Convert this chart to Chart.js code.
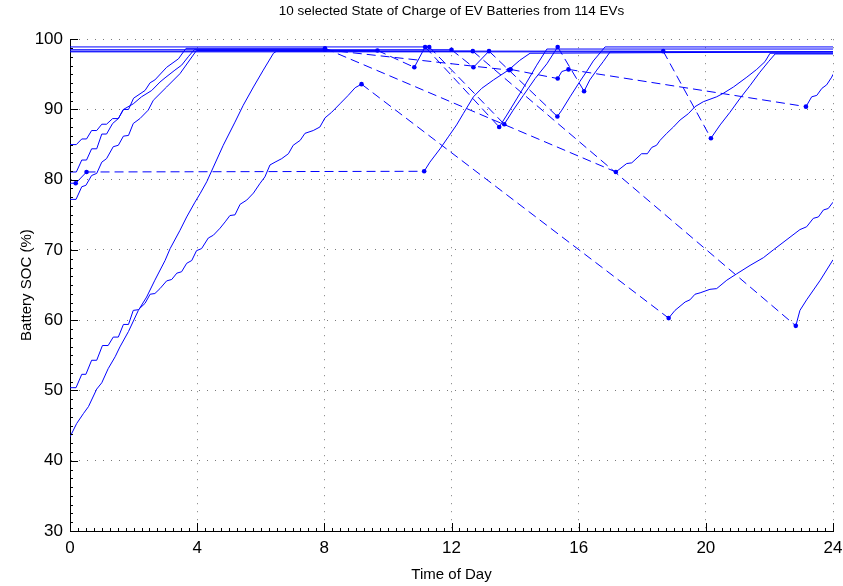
<!DOCTYPE html>
<html>
<head>
<meta charset="utf-8">
<script src="https://cdn.jsdelivr.net/npm/chart.js@4"></script>
<style>
  html, body { margin: 0; padding: 0; background: #fff; }
</style>
</head>
<body>
<canvas id="soc" width="843" height="586"></canvas>
<script>
// axis tick labels
const hourTicks = [0, 4, 8, 12, 16, 20, 24];
const socTicks = [30, 40, 50, 60, 70, 80, 90, 100];

// one EV per block: time of day (h), battery SOC (%), and the trips away from the charger [leave, arrive]
const ev1Time = [0, 0.2, 0.37, 0.52, 0.68, 0.84, 1.0, 1.15, 1.34, 1.52, 1.68, 1.84, 2.0, 2.36, 2.52, 2.67, 3.04, 3.41, 3.65, 8.02, 17.17, 17.51, 17.67, 17.98, 18.16, 18.3, 18.45, 18.56, 18.77, 18.98, 19.19, 19.45, 19.66, 19.92, 20.34, 20.55, 20.87, 21.29, 21.6, 21.86, 22.02, 24];
const ev1Soc = [85.0, 85.0, 85.8, 85.8, 87.0, 87.0, 87.9, 87.9, 88.7, 88.7, 90.0, 90.0, 91.6, 92.7, 93.8, 94.2, 96.0, 97.2, 98.7, 98.7, 81.1, 82.3, 82.4, 83.7, 83.7, 84.6, 84.9, 85.6, 86.6, 87.5, 88.5, 89.4, 90.4, 91.1, 91.8, 92.3, 93.2, 94.6, 95.7, 96.8, 98.0, 98.0];
const ev1Away = [[8.02, 17.17]];

const ev2Time = [0, 0.2, 0.37, 0.52, 0.68, 0.84, 1.0, 1.15, 1.34, 1.52, 1.68, 1.99, 2.25, 2.57, 2.83, 2.99, 3.3, 3.51, 3.72, 3.91, 8.02, 13.81, 13.86, 15.34, 15.47, 15.68, 23.15, 23.33, 23.49, 23.65, 23.8, 23.96, 24];
const ev2Soc = [81.1, 81.1, 82.8, 82.8, 84.4, 84.4, 86.5, 86.5, 88.0, 88.7, 90.0, 90.8, 91.8, 92.7, 93.9, 94.5, 95.6, 96.3, 97.5, 98.5, 98.5, 95.6, 95.7, 94.4, 95.4, 95.7, 90.4, 91.8, 92.0, 93.0, 93.5, 94.6, 95.0];
const ev2Away = [[8.02, 13.81], [13.86, 15.34], [15.68, 23.15]];

const ev3Time = [0, 0.19, 0.37, 0.5, 0.68, 0.84, 1.0, 1.15, 1.36, 1.52, 1.68, 1.84, 1.99, 2.2, 2.46, 2.62, 3.04, 3.46, 3.98, 9.67, 10.83, 11.17, 13.5, 13.74, 14.05, 14.37, 14.68, 15.0, 24];
const ev3Soc = [77.2, 77.2, 79.0, 79.2, 80.6, 80.9, 82.5, 83.0, 84.7, 84.9, 86.2, 86.3, 88.0, 88.7, 89.9, 91.3, 93.2, 95.1, 98.4, 98.4, 96.0, 98.9, 87.5, 89.2, 91.5, 93.9, 96.3, 98.6, 98.6];
const ev3Away = [[9.67, 10.83], [11.17, 13.5]];

const ev4Time = [0, 0.18, 0.52, 11.14, 11.32, 11.64, 11.9, 12.16, 12.37, 12.69, 12.95, 13.32, 13.79, 14.15, 14.47, 24];
const ev4Soc = [79.5, 79.5, 81.1, 81.2, 82.5, 84.4, 86.1, 87.8, 89.4, 91.8, 93.0, 94.2, 95.6, 97.0, 98.0, 98.2];
const ev4Away = [[0, 0.18], [0.52, 11.14]];

const ev5Time = [0, 0.19, 0.37, 0.5, 0.68, 0.84, 1.02, 1.2, 1.36, 1.52, 1.68, 1.84, 1.99, 2.15, 2.36, 2.52, 2.67, 2.83, 3.04, 3.2, 3.36, 3.51, 3.67, 3.83, 3.98, 4.14, 4.35, 4.51, 4.72, 4.88, 5.03, 5.19, 5.35, 5.56, 5.77, 5.98, 6.13, 6.29, 6.45, 6.66, 6.87, 7.02, 7.24, 7.39, 7.65, 7.86, 8.02, 8.23, 8.49, 8.75, 8.97, 9.17, 18.83, 19.03, 19.35, 19.5, 19.66, 19.82, 20.13, 20.34, 20.66, 20.97, 21.39, 21.81, 22.12, 22.96, 23.17, 23.38, 23.54, 23.7, 23.85, 24];
const ev5Soc = [50.4, 50.4, 52.3, 52.3, 54.3, 54.3, 56.4, 56.4, 57.6, 57.6, 59.4, 59.4, 61.4, 61.5, 62.4, 63.7, 63.8, 64.5, 65.6, 65.8, 66.7, 66.9, 68.1, 68.5, 69.9, 70.2, 71.7, 72.1, 73.1, 74.0, 74.9, 75.0, 76.5, 77.1, 78.1, 79.5, 80.4, 82.1, 82.5, 83.0, 83.7, 84.9, 85.6, 86.6, 87.0, 87.5, 88.8, 89.6, 90.8, 92.0, 93.1, 93.6, 60.3, 61.4, 62.6, 62.9, 63.7, 63.9, 64.4, 64.5, 65.7, 66.6, 67.8, 68.9, 70.0, 72.9, 73.3, 74.5, 74.7, 75.7, 75.9, 76.8];
const ev5Away = [[9.17, 18.83]];

const ev6Time = [0, 0.21, 0.42, 0.58, 0.84, 1.0, 1.2, 1.42, 1.57, 1.84, 2.15, 2.41, 2.67, 2.99, 3.15, 3.46, 3.67, 3.93, 4.09, 4.3, 4.51, 4.82, 5.19, 5.45, 5.77, 6.08, 6.4, 6.5, 12.67, 22.83, 22.96, 23.17, 23.6, 24];
const ev6Soc = [43.4, 45.3, 46.7, 47.7, 50.2, 51.1, 53.1, 54.8, 56.2, 58.4, 61.4, 63.3, 65.7, 68.5, 70.2, 72.8, 74.7, 76.8, 78.0, 79.7, 81.8, 84.9, 88.2, 90.6, 93.2, 95.6, 98.0, 98.3, 98.3, 59.2, 61.4, 62.9, 65.7, 68.6];
const ev6Away = [[12.67, 22.83]];

const ev7Time = [0, 12.0, 12.69, 13.18, 15.33, 15.47, 15.73, 16.04, 16.25, 16.46, 16.83, 24];
const ev7Soc = [98.5, 98.5, 96.0, 98.3, 89.0, 89.9, 91.8, 94.0, 95.4, 96.9, 98.9, 98.9];
const ev7Away = [[12.0, 12.69], [13.18, 15.33]];

const ev8Time = [0, 11.3, 13.66, 13.94, 14.26, 14.63, 15.0, 15.34, 16.17, 16.35, 16.57, 16.77, 16.99, 24];
const ev8Soc = [98.9, 98.9, 87.9, 89.9, 92.0, 94.4, 96.5, 98.9, 92.6, 94.2, 95.6, 96.8, 98.2, 98.2];
const ev8Away = [[11.3, 13.66], [15.34, 16.17]];

const ev9Time = [0, 18.66, 20.16, 20.45, 20.76, 21.08, 21.39, 21.7, 21.97, 22.18, 24];
const ev9Soc = [98.3, 98.3, 85.9, 87.8, 89.6, 91.6, 93.4, 95.3, 96.8, 97.9, 97.9];
const ev9Away = [[18.66, 20.16]];

const ev10Time = [0, 24];
const ev10Soc = [98.2, 98.2];
const ev10Away = [];

const blue = '#0000ff';
const family = '"Liberation Sans", Arial, Helvetica, sans-serif';

// a segment is dashed when the car is away from the charger
function isAway(away, t0, t1) {
    return away.some(([a, b]) => t0 >= a - 1e-9 && t1 <= b + 1e-9);
}

const evs = [
    [ev1Time, ev1Soc, ev1Away], [ev2Time, ev2Soc, ev2Away], [ev3Time, ev3Soc, ev3Away],
    [ev4Time, ev4Soc, ev4Away], [ev5Time, ev5Soc, ev5Away], [ev6Time, ev6Soc, ev6Away],
    [ev7Time, ev7Soc, ev7Away], [ev8Time, ev8Soc, ev8Away], [ev9Time, ev9Soc, ev9Away],
    [ev10Time, ev10Soc, ev10Away]
];

const datasets = evs.map(([time, soc, away], i) => {
    // dots where a car leaves or arrives
    const stops = away.flat().filter(t => t > 0 && t < 24);
    return {
        label: 'EV ' + (i + 1),
        data: time.map((t, k) => ({ x: t, y: soc[k] })),
        borderColor: blue,
        backgroundColor: blue,
        borderWidth: 1,
        pointRadius: time.map(t => stops.includes(t) ? 2.3 : 0),
        pointBorderWidth: 0,
        pointHoverRadius: 0,
        fill: false,
        tension: 0,
        segment: {
            borderDash: ctx => isAway(away, ctx.p0.parsed.x, ctx.p1.parsed.x) ? [9, 5] : undefined
        }
    };
});

// matlab-like inward ticks, major + minor
const axisTicks = {
    id: 'axisTicks',
    afterDraw(chart) {
        const { ctx, chartArea: area, scales: { x, y } } = chart;
        ctx.save();
        ctx.strokeStyle = '#000';
        ctx.lineWidth = 1;
        ctx.beginPath();
        for (let i = 0; i <= 96; i++) {
            const px = Math.round(x.getPixelForValue(i * 0.25)) + 0.5;
            const len = i % 16 === 0 ? 8 : 3;
            ctx.moveTo(px, area.bottom);
            ctx.lineTo(px, area.bottom - len);
        }
        for (let i = 0; i <= 56; i++) {
            const py = Math.round(y.getPixelForValue(30 + i * 1.25)) + 0.5;
            const len = i % 8 === 0 ? 8 : 3;
            ctx.moveTo(area.left, py);
            ctx.lineTo(area.left + len, py);
        }
        ctx.stroke();
        ctx.restore();
    }
};

new Chart(document.getElementById('soc'), {
    type: 'line',
    data: { datasets },
    plugins: [axisTicks],
    options: {
        responsive: false,
        animation: false,
        devicePixelRatio: 1,
        events: [],
        layout: { padding: { left: 0, right: 10, top: 0, bottom: 0 } },
        plugins: {
            legend: { display: false },
            tooltip: { enabled: false },
            title: {
                display: true,
                fullSize: false,
                text: '10 selected State of Charge of EV Batteries from 114 EVs',
                color: '#000',
                font: { family, size: 13.5, weight: 'normal' },
                padding: { top: 3, bottom: 20 }
            }
        },
        scales: {
            x: {
                type: 'linear',
                min: 0,
                max: 24,
                afterBuildTicks: s => { s.ticks = hourTicks.map(v => ({ value: v })); },
                afterFit: s => { s.height = 55; s.paddingLeft = 0; s.paddingRight = 0; },
                ticks: { color: '#000', font: { family, size: 17 }, padding: 7, maxRotation: 0, autoSkip: false },
                grid: { color: '#7a7a7a', lineWidth: 1, drawTicks: false },
                border: { display: true, color: '#000', width: 1, dash: [1, 7] },
                title: { display: true, text: 'Time of Day', color: '#000', font: { family, size: 15 }, padding: { top: 0, bottom: 2 } }
            },
            y: {
                type: 'linear',
                min: 30,
                max: 100,
                afterBuildTicks: s => { s.ticks = socTicks.map(v => ({ value: v })); },
                afterFit: s => { s.width = 70; s.paddingTop = 0; s.paddingBottom = 0; },
                ticks: { color: '#000', font: { family, size: 17 }, padding: 7, autoSkip: false },
                grid: { color: '#7a7a7a', lineWidth: 1, drawTicks: false },
                border: { display: true, color: '#000', width: 1, dash: [1, 7] },
                title: { display: true, text: 'Battery SOC (%)', color: '#000', font: { family, size: 15 }, padding: { top: 18, bottom: 0 } }
            }
        }
    }
});
</script>
</body>
</html>
